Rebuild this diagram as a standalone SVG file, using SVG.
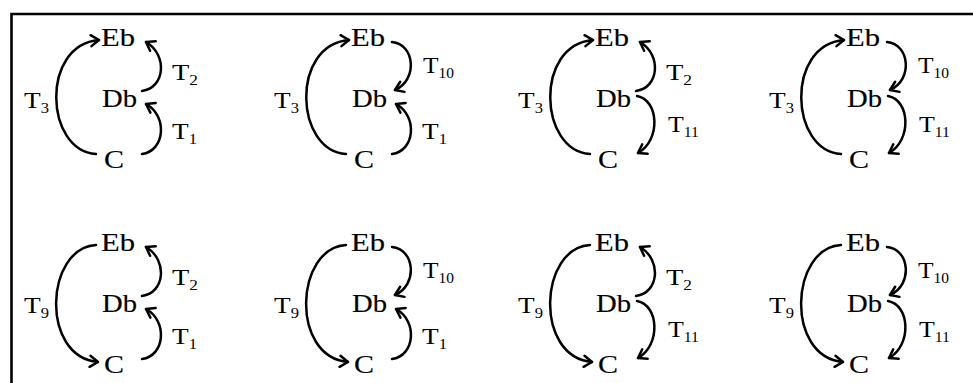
<svg xmlns="http://www.w3.org/2000/svg" width="973" height="383" viewBox="0 0 973 383">
<style>
.frame{stroke:#000;stroke-width:2.6;fill:none}
.node{font-family:"Liberation Serif","Times New Roman",serif;font-size:26px;fill:#000;stroke:#000;stroke-width:0.15}
.lbl{font-family:"Liberation Serif","Times New Roman",serif;font-size:23px;fill:#000}
.sub{font-size:14px}
.arc{stroke:#000;stroke-width:2.5;fill:none;stroke-linecap:round;marker-end:url(#ah)}
</style>
<defs>
<marker id="ah" viewBox="-10 -7 12 14" markerWidth="12" markerHeight="14" refX="0" refY="0" orient="auto" markerUnits="userSpaceOnUse">
<path d="M -8 -5.5 L 0 0 L -8 5.5" stroke="#000" stroke-width="2.5" fill="none" stroke-linecap="round" stroke-linejoin="round"/>
</marker>
</defs>
<rect width="973" height="383" fill="#fff"/>
<g id="frame">
<path class="frame" d="M 11.5 383 L 11.5 14 L 973 14"/>
</g>

<g id="p1" transform="translate(0 0)">
<g id="p1-Eb"><text class="node" x="101" y="46" textLength="34" lengthAdjust="spacingAndGlyphs">Eb</text></g>
<g id="p1-Db"><text class="node" x="102" y="107" textLength="35" lengthAdjust="spacingAndGlyphs">Db</text></g>
<g id="p1-C"><text class="node" x="104" y="168" textLength="20" lengthAdjust="spacingAndGlyphs">C</text></g>
</g>
<g id="p2" transform="translate(250 0)">
<g id="p2-Eb"><text class="node" x="101" y="46" textLength="34" lengthAdjust="spacingAndGlyphs">Eb</text></g>
<g id="p2-Db"><text class="node" x="102" y="107" textLength="35" lengthAdjust="spacingAndGlyphs">Db</text></g>
<g id="p2-C"><text class="node" x="104" y="168" textLength="20" lengthAdjust="spacingAndGlyphs">C</text></g>
</g>
<g id="p3" transform="translate(494 0)">
<g id="p3-Eb"><text class="node" x="101" y="46" textLength="34" lengthAdjust="spacingAndGlyphs">Eb</text></g>
<g id="p3-Db"><text class="node" x="102" y="107" textLength="35" lengthAdjust="spacingAndGlyphs">Db</text></g>
<g id="p3-C"><text class="node" x="104" y="168" textLength="20" lengthAdjust="spacingAndGlyphs">C</text></g>
</g>
<g id="p4" transform="translate(745 0)">
<g id="p4-Eb"><text class="node" x="101" y="46" textLength="34" lengthAdjust="spacingAndGlyphs">Eb</text></g>
<g id="p4-Db"><text class="node" x="102" y="107" textLength="35" lengthAdjust="spacingAndGlyphs">Db</text></g>
<g id="p4-C"><text class="node" x="104" y="168" textLength="20" lengthAdjust="spacingAndGlyphs">C</text></g>
</g>
<g id="p5" transform="translate(0 205)">
<g id="p5-Eb"><text class="node" x="101" y="46" textLength="34" lengthAdjust="spacingAndGlyphs">Eb</text></g>
<g id="p5-Db"><text class="node" x="102" y="107" textLength="35" lengthAdjust="spacingAndGlyphs">Db</text></g>
<g id="p5-C"><text class="node" x="104" y="168" textLength="20" lengthAdjust="spacingAndGlyphs">C</text></g>
</g>
<g id="p6" transform="translate(250 205)">
<g id="p6-Eb"><text class="node" x="101" y="46" textLength="34" lengthAdjust="spacingAndGlyphs">Eb</text></g>
<g id="p6-Db"><text class="node" x="102" y="107" textLength="35" lengthAdjust="spacingAndGlyphs">Db</text></g>
<g id="p6-C"><text class="node" x="104" y="168" textLength="20" lengthAdjust="spacingAndGlyphs">C</text></g>
</g>
<g id="p7" transform="translate(494 205)">
<g id="p7-Eb"><text class="node" x="101" y="46" textLength="34" lengthAdjust="spacingAndGlyphs">Eb</text></g>
<g id="p7-Db"><text class="node" x="102" y="107" textLength="35" lengthAdjust="spacingAndGlyphs">Db</text></g>
<g id="p7-C"><text class="node" x="104" y="168" textLength="20" lengthAdjust="spacingAndGlyphs">C</text></g>
</g>
<g id="p8" transform="translate(745 205)">
<g id="p8-Eb"><text class="node" x="101" y="46" textLength="34" lengthAdjust="spacingAndGlyphs">Eb</text></g>
<g id="p8-Db"><text class="node" x="102" y="107" textLength="35" lengthAdjust="spacingAndGlyphs">Db</text></g>
<g id="p8-C"><text class="node" x="104" y="168" textLength="20" lengthAdjust="spacingAndGlyphs">C</text></g>
</g>

<g id="connectors">
<g transform="translate(0 0)">
<path class="arc" d="M 96 154 C 45 151, 40 45, 99 40"/>
<path class="arc" d="M 142 91 C 165 88, 168 55, 146 42"/>
<path class="arc" d="M 142 154 C 165 151, 168 116, 146 104"/>
<text class="lbl" x="24" y="108" textLength="25" lengthAdjust="spacingAndGlyphs">T<tspan class="sub" dy="5">3</tspan></text>
<text class="lbl" x="172" y="80" textLength="26" lengthAdjust="spacingAndGlyphs">T<tspan class="sub" dy="5">2</tspan></text>
<text class="lbl" x="172" y="139" textLength="25" lengthAdjust="spacingAndGlyphs">T<tspan class="sub" dy="5">1</tspan></text>
</g>
<g transform="translate(250 0)">
<path class="arc" d="M 96 154 C 45 151, 40 45, 99 40"/>
<path class="arc" d="M 142 42 C 165 44, 168 80, 145 90"/>
<path class="arc" d="M 142 154 C 165 151, 168 116, 146 104"/>
<text class="lbl" x="24" y="108" textLength="25" lengthAdjust="spacingAndGlyphs">T<tspan class="sub" dy="5">3</tspan></text>
<text class="lbl" x="173" y="73" textLength="31" lengthAdjust="spacingAndGlyphs">T<tspan class="sub" dy="5">10</tspan></text>
<text class="lbl" x="172" y="139" textLength="25" lengthAdjust="spacingAndGlyphs">T<tspan class="sub" dy="5">1</tspan></text>
</g>
<g transform="translate(494 0)">
<path class="arc" d="M 96 154 C 45 151, 40 45, 99 40"/>
<path class="arc" d="M 142 91 C 165 88, 168 55, 146 42"/>
<path class="arc" d="M 143 96 C 165 100, 167 140, 144 153"/>
<text class="lbl" x="24" y="108" textLength="25" lengthAdjust="spacingAndGlyphs">T<tspan class="sub" dy="5">3</tspan></text>
<text class="lbl" x="172" y="80" textLength="26" lengthAdjust="spacingAndGlyphs">T<tspan class="sub" dy="5">2</tspan></text>
<text class="lbl" x="174" y="132" textLength="31" lengthAdjust="spacingAndGlyphs">T<tspan class="sub" dy="5">11</tspan></text>
</g>
<g transform="translate(745 0)">
<path class="arc" d="M 96 154 C 45 151, 40 45, 99 40"/>
<path class="arc" d="M 142 42 C 165 44, 168 80, 145 90"/>
<path class="arc" d="M 143 96 C 165 100, 167 140, 144 153"/>
<text class="lbl" x="24" y="108" textLength="25" lengthAdjust="spacingAndGlyphs">T<tspan class="sub" dy="5">3</tspan></text>
<text class="lbl" x="173" y="73" textLength="31" lengthAdjust="spacingAndGlyphs">T<tspan class="sub" dy="5">10</tspan></text>
<text class="lbl" x="174" y="132" textLength="31" lengthAdjust="spacingAndGlyphs">T<tspan class="sub" dy="5">11</tspan></text>
</g>
<g transform="translate(0 205)">
<path class="arc" d="M 96 40 C 45 43, 40 152, 98 157"/>
<path class="arc" d="M 142 91 C 165 88, 168 55, 146 42"/>
<path class="arc" d="M 142 154 C 165 151, 168 116, 146 104"/>
<text class="lbl" x="24" y="108" textLength="25" lengthAdjust="spacingAndGlyphs">T<tspan class="sub" dy="5">9</tspan></text>
<text class="lbl" x="172" y="80" textLength="26" lengthAdjust="spacingAndGlyphs">T<tspan class="sub" dy="5">2</tspan></text>
<text class="lbl" x="172" y="139" textLength="25" lengthAdjust="spacingAndGlyphs">T<tspan class="sub" dy="5">1</tspan></text>
</g>
<g transform="translate(250 205)">
<path class="arc" d="M 96 40 C 45 43, 40 152, 98 157"/>
<path class="arc" d="M 142 42 C 165 44, 168 80, 145 90"/>
<path class="arc" d="M 142 154 C 165 151, 168 116, 146 104"/>
<text class="lbl" x="24" y="108" textLength="25" lengthAdjust="spacingAndGlyphs">T<tspan class="sub" dy="5">9</tspan></text>
<text class="lbl" x="173" y="73" textLength="31" lengthAdjust="spacingAndGlyphs">T<tspan class="sub" dy="5">10</tspan></text>
<text class="lbl" x="172" y="139" textLength="25" lengthAdjust="spacingAndGlyphs">T<tspan class="sub" dy="5">1</tspan></text>
</g>
<g transform="translate(494 205)">
<path class="arc" d="M 96 40 C 45 43, 40 152, 98 157"/>
<path class="arc" d="M 142 91 C 165 88, 168 55, 146 42"/>
<path class="arc" d="M 143 96 C 165 100, 167 140, 144 153"/>
<text class="lbl" x="24" y="108" textLength="25" lengthAdjust="spacingAndGlyphs">T<tspan class="sub" dy="5">9</tspan></text>
<text class="lbl" x="172" y="80" textLength="26" lengthAdjust="spacingAndGlyphs">T<tspan class="sub" dy="5">2</tspan></text>
<text class="lbl" x="174" y="132" textLength="31" lengthAdjust="spacingAndGlyphs">T<tspan class="sub" dy="5">11</tspan></text>
</g>
<g transform="translate(745 205)">
<path class="arc" d="M 96 40 C 45 43, 40 152, 98 157"/>
<path class="arc" d="M 142 42 C 165 44, 168 80, 145 90"/>
<path class="arc" d="M 143 96 C 165 100, 167 140, 144 153"/>
<text class="lbl" x="24" y="108" textLength="25" lengthAdjust="spacingAndGlyphs">T<tspan class="sub" dy="5">9</tspan></text>
<text class="lbl" x="173" y="73" textLength="31" lengthAdjust="spacingAndGlyphs">T<tspan class="sub" dy="5">10</tspan></text>
<text class="lbl" x="174" y="132" textLength="31" lengthAdjust="spacingAndGlyphs">T<tspan class="sub" dy="5">11</tspan></text>
</g>
</g>
</svg>
